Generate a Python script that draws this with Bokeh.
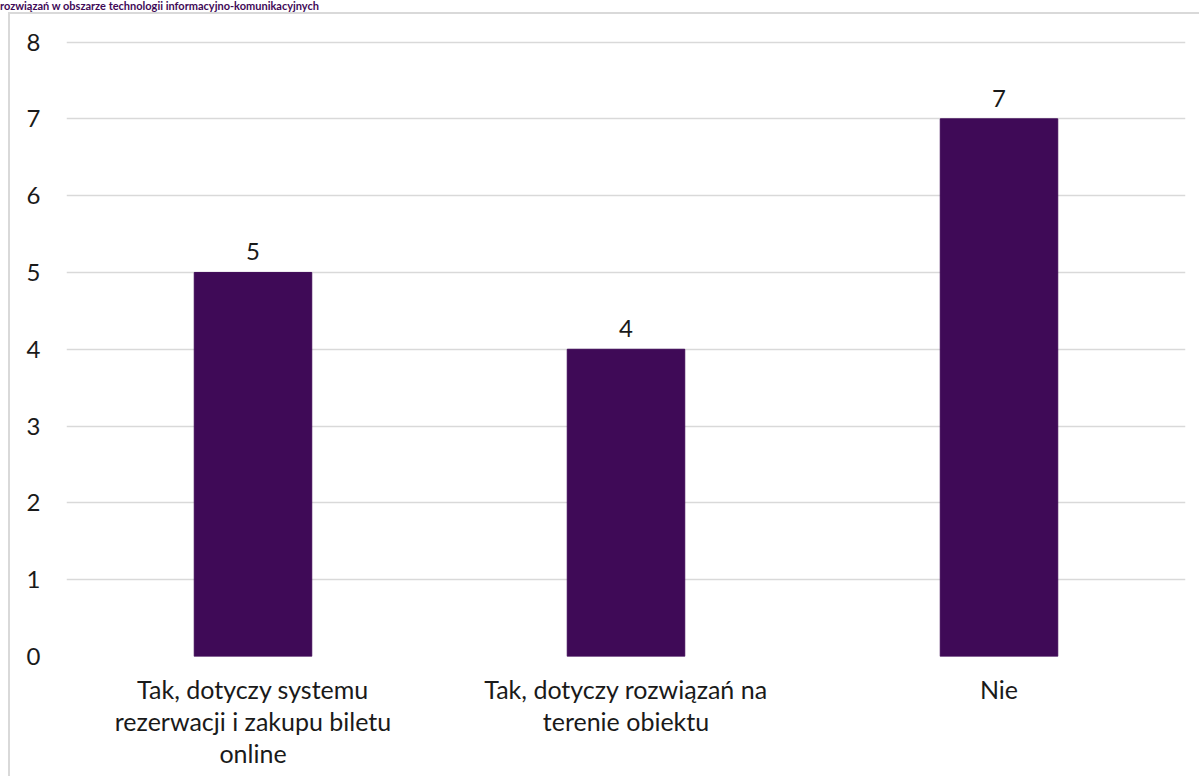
from bokeh.plotting import figure
from bokeh.layouts import column
from bokeh.models import Range1d, FixedTicker, ColumnDataSource, LabelSet, Div
from bokeh.core.properties import value
from bokeh.embed import file_html
from bokeh.resources import INLINE

title_text = "rozwiązań w obszarze technologii informacyjno-komunikacyjnych"
categories = ["Tak, dotyczy systemu\nrezerwacji i zakupu biletu\nonline",
              "Tak, dotyczy rozwiązań na\nterenie obiektu",
              "Nie"]
values = [5, 4, 7]
y_ticks = [0, 1, 2, 3, 4, 5, 6, 7, 8]

xs = list(range(len(categories)))
src = ColumnDataSource(dict(x=xs, top=values, lbl=[str(v) for v in values]))

TXT = "#1a1a1a"

p = figure(width=1191, height=764, output_backend="svg", toolbar_location=None,
           x_range=Range1d(-0.5, len(categories) - 0.5), y_range=Range1d(0, 8.02),
           min_border_left=56, min_border_right=16, min_border_top=26, min_border_bottom=122)

p.vbar(x="x", top="top", width=0.315, source=src, color="#3f0a57")
p.add_layout(LabelSet(x="x", y="top", text="lbl", source=src, text_align="center",
                      text_baseline="bottom", y_offset=12, text_font=value("Lato"),
                      text_font_size="24px", text_color=TXT))

p.yaxis.ticker = FixedTicker(ticks=y_ticks)
p.xaxis.ticker = FixedTicker(ticks=xs)
p.xaxis.major_label_overrides = {i: c for i, c in enumerate(categories)}

for ax in (p.xaxis, p.yaxis):
    ax.axis_line_color = None
    ax.major_tick_line_color = None
    ax.minor_tick_line_color = None
    ax.major_label_text_font = "Lato"
    ax.major_label_text_color = TXT
p.yaxis.major_label_text_font_size = "24px"
p.xaxis.major_label_text_font_size = "25px"
p.yaxis.major_label_standoff = 20
p.xaxis.major_label_standoff = 11
p.xaxis.major_label_text_line_height = 1.07

p.xgrid.grid_line_color = None
p.ygrid.grid_line_color = "#d9d9d9"
p.ygrid.grid_line_width = 1.3
p.outline_line_color = None
p.background_fill_color = "white"
p.border_fill_color = "white"
p.styles = {"border-left": "2px solid #d9d9d9", "border-top": "2px solid #d9d9d9",
            "margin-left": "8px"}

title = Div(text=title_text, width=1190, height=12, margin=(0, 0, 0, 0),
            styles={"font-family": "Lato", "font-size": "11px", "font-weight": "bold",
                    "color": "#3f0a57", "line-height": "12px", "white-space": "nowrap",
                    "overflow": "hidden", "margin": "0", "padding": "0"})

layout = column(title, p, spacing=0)
open("out.html", "w").write(file_html(layout, INLINE))
